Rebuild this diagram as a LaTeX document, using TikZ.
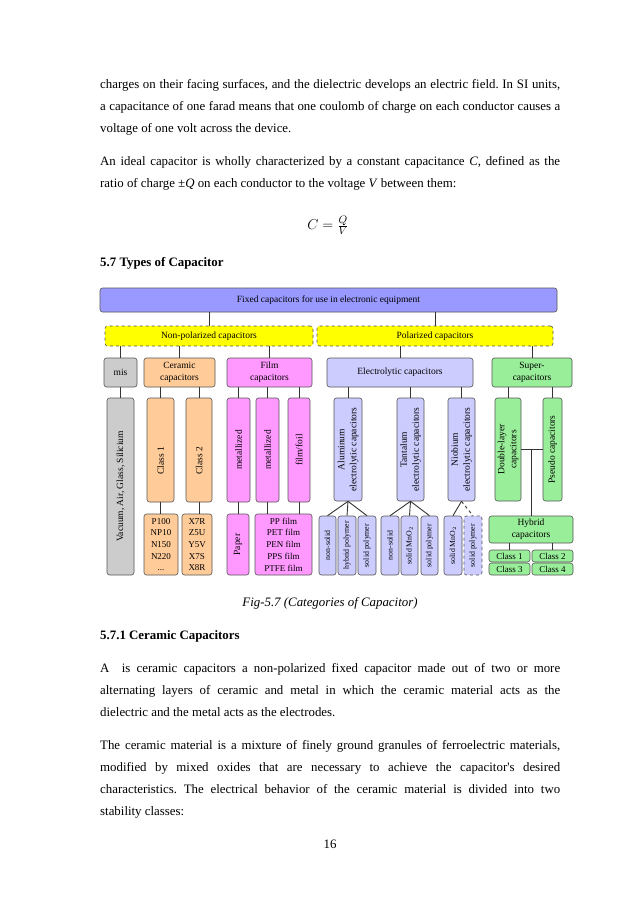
\documentclass[tikz,border=0pt]{standalone}
\usepackage{fontspec}
\setmainfont{Liberation Serif}
\usepackage{graphicx}
\definecolor{cBar}{HTML}{9999FF}
\definecolor{cYel}{HTML}{FFFF00}
\definecolor{cGray}{HTML}{CCCCCC}
\definecolor{cCer}{HTML}{FFCC99}
\definecolor{cFilm}{HTML}{FF99FF}
\definecolor{cEl}{HTML}{CCCCFF}
\definecolor{cSup}{HTML}{99EE99}
\definecolor{cBord}{HTML}{555555}
\definecolor{cLine}{HTML}{333333}
\newcommand\jl[1]{\makebox[460pt][s]{#1}}
\newcommand\vt[1]{\rotatebox{90}{#1}}
\newcommand\vtt[2]{\rotatebox{90}{\begin{tabular}{@{}c@{}}#1\\#2\end{tabular}}}
\newcommand\bx[7]{\node[#2, minimum width={(#5-#3)*1pt}, minimum height={(#6-#4)*1pt}] (#1) at ({(#3+#5)/2},{(#4+#6)/2}) {#7};}
\frenchspacing
\begin{document}
\begin{tikzpicture}[x=1pt,y=-1pt,
  body/.style={anchor=base west, inner sep=0pt, font=\fontsize{12.87pt}{15pt}\selectfont},
  bx/.style={draw=cBord, line width=0.6pt, rounded corners=2.5pt, inner sep=0pt, align=center,
     font=\fontsize{9.5pt}{12pt}\selectfont},
  ydash/.style={bx, fill=cYel, dashed},
  gbox/.style={bx, fill=cGray},
  cbox/.style={bx, fill=cCer},
  fbox/.style={bx, fill=cFilm},
  ebox/.style={bx, fill=cEl},
  sbox/.style={bx, fill=cSup},
  lst/.style={font=\fontsize{9pt}{11.7pt}\selectfont},
  cls/.style={font=\fontsize{9pt}{10pt}\selectfont},
  small/.style={font=\fontsize{7.8pt}{9pt}\selectfont},
  conn/.style={draw=cLine, line width=0.9pt}]
\useasboundingbox[fill=white] (0,0) rectangle (638,903);

% ---- text above ----
\node[body] (t1) at (100,88) {\jl{charges on their facing surfaces, and the dielectric develops an electric field. In SI units,}};
\node[body] (t2) at (100,110) {\jl{a capacitance of one farad means that one coulomb of charge on each conductor causes a}};
\node[body] (t3) at (100,132) {voltage of one volt across the device.};
\node[body] (t4) at (100,165) {\jl{An ideal capacitor is wholly characterized by a constant capacitance \textit{C}, defined as the}};
\node[body] (t5) at (100,187) {ratio of charge ±\textit{Q} on each conductor to the voltage \textit{V} between them:};
\node[inner sep=0pt, font=\fontsize{15pt}{18pt}\selectfont] (eq) at (328,225) {$C=\frac{Q}{V}$};
\node[body] (h1) at (100,266) {\textbf{5.7 Types of Capacitor}};

% ---- diagram ----
\bx{bar}{bx, fill=cBar}{100}{288}{557}{312}{Fixed capacitors for use in electronic equipment}
\bx{npol}{ydash}{105}{326}{313}{346}{Non-polarized capacitors}
\bx{pol}{ydash}{317}{326}{553}{346}{Polarized capacitors}
\bx{mis}{gbox}{104}{358}{137}{387}{mis}
\bx{cer}{cbox}{144}{358}{215}{387}{Ceramic\\capacitors}
\bx{film}{fbox}{227}{358}{312}{387}{Film\\capacitors}
\bx{el}{ebox}{327}{358}{473}{387}{Electrolytic capacitors}
\bx{sup}{sbox}{492}{358}{572}{387}{Super-\\capacitors}

\bx{vac}{gbox}{107}{398}{134}{575}{\vt{Vacuum, Air, Glass, Silicium}}
\bx{c1}{cbox}{147}{398}{174}{502}{\vt{Class 1\hspace{22pt}}}
\bx{c2}{cbox}{186}{398}{212}{502}{\vt{Class 2\hspace{22pt}}}
\bx{cl1}{cbox, lst}{144}{514}{178}{575}{P100\\NP10\\N150\\N220\\...}
\bx{cl2}{cbox, lst}{182}{514}{212}{575}{X7R\\Z5U\\Y5V\\X7S\\X8R}
\bx{m1}{fbox}{227}{398}{250}{502}{\vt{metallized}}
\bx{m2}{fbox}{256}{398}{279}{502}{\vt{metallized}}
\bx{ff}{fbox}{288}{398}{310}{502}{\vt{film/foil}}
\bx{pap}{fbox}{227}{514}{249}{575}{\vt{Paper}}
\bx{ppf}{fbox, lst}{255}{514}{312}{575}{PP film\\PET film\\PEN film\\PPS film\\PTFE film}

\bx{al}{ebox}{334}{398}{362}{501}{\vtt{Aluminum}{electrolytic capacitors}}
\bx{ta}{ebox}{397}{398}{424}{501}{\vtt{Tantalum}{electrolytic capacitors}}
\bx{nb}{ebox}{448}{398}{475}{501}{\vtt{Niobium}{electrolytic capacitors}}
\bx{s1}{ebox, small}{319}{516}{336}{575}{\vt{non-solid}}
\bx{s2}{ebox, small}{338}{516}{356}{575}{\vt{hybrid polymer}}
\bx{s3}{ebox, small}{358}{516}{376}{575}{\vt{solid polymer}}
\bx{s4}{ebox, small}{381}{516}{399}{575}{\vt{non-solid}}
\bx{s5}{ebox, small}{401}{516}{418}{575}{\vt{solid MnO$_2$}}
\bx{s6}{ebox, small}{421}{516}{438}{575}{\vt{solid polymer}}
\bx{s7}{ebox, small}{444}{516}{462}{575}{\vt{solid MnO$_2$}}
\bx{s8}{ebox, small, dashed}{464}{516}{482}{575}{\vt{solid polymer}}

\bx{dl}{sbox}{495}{398}{521}{501}{\vtt{Double-layer}{capacitors}}
\bx{ps}{sbox}{543}{398}{562}{501}{\vt{Pseudo capacitors}}
\bx{hy}{sbox}{489}{516}{573}{543}{Hybrid\\capacitors}
\bx{k1}{sbox, cls}{489}{550}{530}{562}{Class 1}
\bx{k2}{sbox, cls}{532}{550}{573}{562}{Class 2}
\bx{k3}{sbox, cls}{489}{563}{530}{575}{Class 3}
\bx{k4}{sbox, cls}{532}{563}{573}{575}{Class 4}

% connectors
\draw[conn] (npol.north) -- (npol.north |- bar.south);
\draw[conn] (pol.north) -- (pol.north |- bar.south);
\foreach \n in {mis,cer,film} \draw[conn] (\n.north) -- (\n.north |- npol.south);
\foreach \n in {el,sup} \draw[conn] (\n.north) -- (\n.north |- pol.south);
\draw[conn] (vac.north) -- (vac.north |- mis.south);
\foreach \n in {c1,c2} \draw[conn] (\n.north) -- (\n.north |- cer.south);
\foreach \n in {m1,m2,ff} \draw[conn] (\n.north) -- (\n.north |- film.south);
\foreach \n in {al,ta,nb} \draw[conn] (\n.north) -- (\n.north |- el.south);
\foreach \n in {dl,ps} \draw[conn] (\n.north) -- (\n.north |- sup.south);
\draw[conn] (c1.south) -- (c1.south |- cl1.north);
\draw[conn] (c2.south) -- (c2.south |- cl2.north);
\draw[conn] (m1.south) -- (m1.south |- pap.north);
\draw[conn] (m2.south) -- (m2.south |- ppf.north);
\draw[conn] (ff.south) -- (ff.south |- ppf.north);
\foreach \n in {s1,s2,s3} \draw[conn] (al.south) -- (\n.north);
\foreach \n in {s4,s5,s6} \draw[conn] (ta.south) -- (\n.north);
\draw[conn] (nb.south) -- (s7.north);
\draw[conn, dashed] (nb.south) -- (s8.north);
\draw[conn] (dl.east) -- (ps.west);
\draw[conn] (hy.north) -- (hy.north |- dl.east);
\draw[conn] (k1.north) -- (k1.north |- hy.south);
\draw[conn] (k2.north) -- (k2.north |- hy.south);

% ---- text below ----
\node[anchor=base, inner sep=0pt, font=\fontsize{12.87pt}{15pt}\selectfont\itshape] (cap) at (330,606) {Fig-5.7 (Categories of Capacitor)};
\node[body] (h2) at (100,639) {\textbf{5.7.1 Ceramic Capacitors}};
\node[body] (p1) at (100,672) {\jl{A \ is ceramic capacitors a non-polarized fixed capacitor made out of two or more}};
\node[body] (p2) at (100,694) {\jl{alternating layers of ceramic and metal in which the ceramic material acts as the}};
\node[body] (p3) at (100,716) {dielectric and the metal acts as the electrodes.};
\node[body] (p4) at (100,749) {\jl{The ceramic material is a mixture of finely ground granules of ferroelectric materials,}};
\node[body] (p5) at (100,771) {\jl{modified by mixed oxides that are necessary to achieve the capacitor\textquotesingle s desired}};
\node[body] (p6) at (100,793) {\jl{characteristics. The electrical behavior of the ceramic material is divided into two}};
\node[body] (p7) at (100,815) {stability classes:};
\node[anchor=base, inner sep=0pt, font=\fontsize{12.87pt}{15pt}\selectfont] (pg) at (330,848) {16};
\end{tikzpicture}
\end{document}
